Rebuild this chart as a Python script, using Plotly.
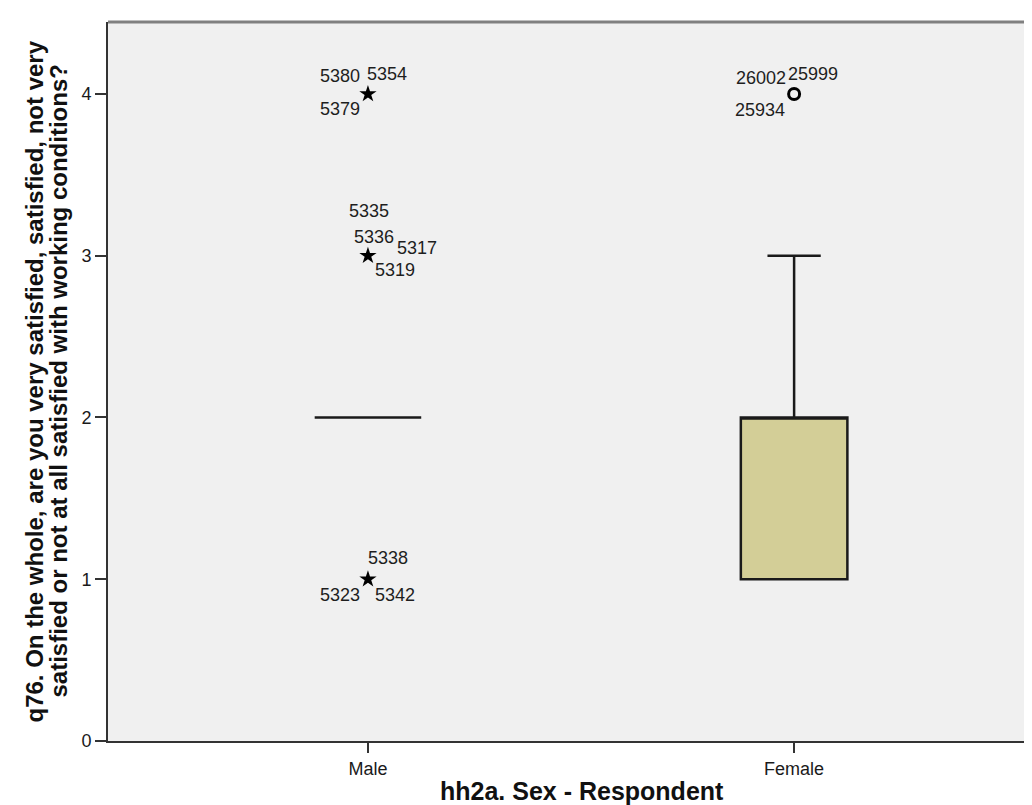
import plotly.graph_objects as go

# ---- data ----
categories = ["Male", "Female"]
cat_pos = [0, 1]
q1 = [2, 1]
median = [2, 2]
q3 = [2, 2]
lower_fence = [2, 1]
upper_fence = [2, 3]

male_extreme_y = [4, 3, 1]
male_extreme_labels = [["5380", "5354", "5379"],
                       ["5335", "5336", "5317", "5319"],
                       ["5338", "5323", "5342"]]
female_outlier_y = [4]
female_outlier_labels = [["26002", "25999", "25934"]]

y_ticks = [0, 1, 2, 3, 4]

# ---- label placement (pixel offsets from the marker, style only) ----
male_offsets = [[(-28, 18), (19, 20), (-28, -15)],
                [(1, 45), (6, 19), (49, 8), (27, -14)],
                [(20, 21), (-28, -16), (27, -16)]]
female_offsets = [[(-33, 16), (19, 20), (-34, -16)]]

FONT = "Liberation Sans, Arial, sans-serif"
LABEL_SIZE = 18

fig = go.Figure()

fig.add_trace(go.Box(
    x=cat_pos, q1=q1, median=median, q3=q3,
    lowerfence=lower_fence, upperfence=upper_fence,
    width=0.25, whiskerwidth=0.5, boxpoints=False,
    fillcolor="#d3ce97", line=dict(color="#1a1a1a", width=2.5),
    showlegend=False, hoverinfo="skip"))

fig.add_trace(go.Scatter(
    x=[cat_pos[0]] * len(male_extreme_y), y=male_extreme_y, mode="markers",
    marker=dict(symbol="star", size=13, color="black"),
    showlegend=False, hoverinfo="skip"))

fig.add_trace(go.Scatter(
    x=[cat_pos[1]] * len(female_outlier_y), y=female_outlier_y, mode="markers",
    marker=dict(symbol="circle-open", size=11, color="black",
                line=dict(width=3, color="black")),
    showlegend=False, hoverinfo="skip"))

annotations = []
for yv, labels, offs in zip(male_extreme_y, male_extreme_labels, male_offsets):
    for lab, (dx, dy) in zip(labels, offs):
        annotations.append(dict(x=cat_pos[0], y=yv, text=lab, showarrow=False,
                                xshift=dx, yshift=dy,
                                font=dict(family=FONT, size=LABEL_SIZE, color="#1e1e1e")))
for yv, labels, offs in zip(female_outlier_y, female_outlier_labels, female_offsets):
    for lab, (dx, dy) in zip(labels, offs):
        annotations.append(dict(x=cat_pos[1], y=yv, text=lab, showarrow=False,
                                xshift=dx, yshift=dy,
                                font=dict(family=FONT, size=LABEL_SIZE, color="#1e1e1e")))

# axis titles
annotations.append(dict(xref="paper", yref="paper", x=0.5086, y=0, yshift=-66,
                        xanchor="center", yanchor="bottom",
                        text="<b>hh2a. Sex - Respondent</b>", showarrow=False,
                        font=dict(family=FONT, size=25, color="#111")))
annotations.append(dict(xref="paper", yref="paper", x=0, y=0.5, xshift=-74,
                        xanchor="center", yanchor="middle",
                        text="<b>q76. On the whole, are you very satisfied, satisfied, not very</b>",
                        textangle=-90, showarrow=False,
                        font=dict(family=FONT, size=24, color="#111")))
annotations.append(dict(xref="paper", yref="paper", x=0, y=0.5, xshift=-50,
                        xanchor="center", yanchor="middle",
                        text="<b>satisfied or not at all satisfied with working conditions?</b>",
                        textangle=-90, showarrow=False,
                        font=dict(family=FONT, size=24, color="#111")))

fig.update_layout(
    width=1032, height=805,
    margin=dict(l=100, r=0, t=14, b=72),
    paper_bgcolor="white", plot_bgcolor="#f0f0f0",
    annotations=annotations,
    shapes=[dict(type="line", xref="paper", yref="paper", x0=0, x1=1, y0=1, y1=1,
                 line=dict(color="#808080", width=3))],
)
fig.update_xaxes(range=[-0.61, 1.577], tickvals=cat_pos, ticktext=categories,
                 showgrid=False, zeroline=False, showline=True,
                 linecolor="#333", linewidth=2, ticks="outside", ticklen=10,
                 tickcolor="#333", tickwidth=2,
                 tickfont=dict(family=FONT, size=18, color="#1a1a1a"))
fig.update_yaxes(range=[0, 4.445], tickvals=y_ticks, showgrid=False, zeroline=False,
                 showline=True, linecolor="#333", linewidth=2, ticks="outside",
                 ticklen=11, tickcolor="#333", tickwidth=2,
                 tickfont=dict(family=FONT, size=18, color="#1a1a1a"))

fig.write_html("out.html")
